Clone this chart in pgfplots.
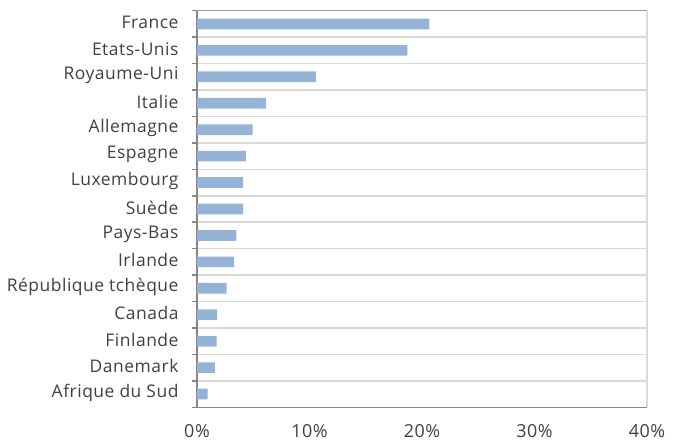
\documentclass[border=0pt]{standalone}
\usepackage{pgfplots}
\pgfplotsset{compat=1.18}
\usepackage{fontspec}
\setmainfont{Open Sans}
\newfontfamily\lab[LetterSpace=3]{Open Sans}
\definecolor{barblue}{HTML}{95B3D7}
\definecolor{gridgray}{HTML}{D9D9D9}
\definecolor{axgray}{HTML}{868686}
\definecolor{txt}{HTML}{404040}
\begin{document}
\begin{tikzpicture}
\begin{axis}[
  name=ax,
  scale only axis,
  width=450bp, height=396.6bp,
  xbar, bar width=10.7bp,
  xmin=0, xmax=40,
  ymin=-0.5, ymax=14.5,
  ytick={0,...,14},
  yticklabels={Afrique du Sud,Danemark,Finlande,Canada,République tchèque,Irlande,Pays-Bas,Suède,Luxembourg,Espagne,Allemagne,Italie,Royaume-Uni,Etats-Unis,France},
  minor ytick={-0.5,0.5,...,14.5},
  ymajorgrids=false, yminorgrids=true,
  minor grid style={draw=gridgray, line width=1.5bp},
  major tick length=0pt,
  minor tick length=5bp,
  xtick={0,10,20,30,40},
  xticklabels={0\%,10\%,20\%,30\%,40\%},
  x tick style={draw=axgray, line width=1.2bp},
  xtick align=outside,
  ytick align=outside,
  tick pos=left,
  axis lines*=left,
  axis line style={draw=axgray, line width=1.5bp},
  y tick style={draw=axgray, line width=1.5bp},
  every tick/.append style={major tick length=6bp},
  xticklabel style={font=\lab\fontsize{18}{21}\selectfont, text=txt, yshift=-14bp},
  yticklabel style={font=\lab\fontsize{17.5}{21}\selectfont, text=txt, xshift=-15bp, yshift=1.5bp},
  clip=false,
]
\addplot[fill=barblue, draw=none] coordinates {
(0.94,0) (1.60,1) (1.74,2) (1.80,3) (2.63,4) (3.31,5) (3.49,6) (4.11,7) (4.11,8) (4.35,9) (4.94,10) (6.15,11) (10.57,12) (18.7,13) (20.66,14)
};
\draw[draw=gridgray, line width=1.5bp] (rel axis cs:1,0) -- (rel axis cs:1,1);
\draw[draw=axgray!80, line width=1.5bp] (rel axis cs:0,1) -- (rel axis cs:1,1);
\end{axis}
\pgfresetboundingbox
\path[use as bounding box] ([shift={(-197bp,-37.7bp)}]ax.south west) rectangle ([shift={(26bp,10.7bp)}]ax.north east);
\end{tikzpicture}
\end{document}
